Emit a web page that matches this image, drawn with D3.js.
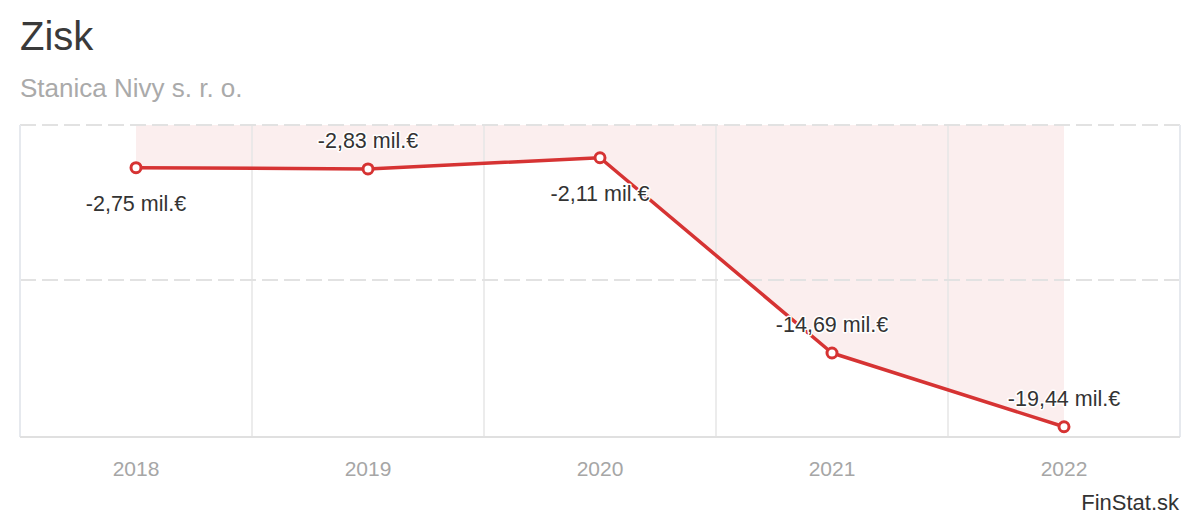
<!DOCTYPE html>
<html>
<head>
  <meta charset="utf-8">
  <script src="https://cdnjs.cloudflare.com/ajax/libs/d3/7.8.5/d3.min.js"></script>
  <title>Zisk</title>
  <style>
    body { margin: 0; background: #fff; }
    text { font-family: "Liberation Sans", Arial, sans-serif; }
  </style>
</head>
<body>
<script>
var roky = ["2018", "2019", "2020", "2021", "2022"];
var zisk = [-2.75, -2.83, -2.11, -14.69, -19.44];   // mil. €
var popisky = ["-2,75 mil.€", "-2,83 mil.€", "-2,11 mil.€", "-14,69 mil.€", "-19,44 mil.€"];
var yTicky = [0, -10, -20];

var W = 1200, H = 520;
var pLeft = 20, pRight = 1180, pTop = 125, pBottom = 437;

var svg = d3.select("body").append("svg")
  .attr("width", W).attr("height", H);

var x = d3.scaleBand().domain(roky).range([pLeft, pRight]).padding(0);
var y = d3.scaleLinear().domain([-20.1, 0]).range([pBottom, pTop]);
var cx = function(d, i) { return x(roky[i]) + x.bandwidth() / 2; };

// title
svg.append("text").attr("x", 20).attr("y", 50)
  .attr("font-size", 40).attr("fill", "#3a3a3a").text("Zisk");
svg.append("text").attr("x", 20).attr("y", 97)
  .attr("font-size", 26).attr("fill", "#aaa").text("Stanica Nivy s. r. o.");

// area between zero and the line
var plocha = d3.area()
  .x(cx)
  .y0(y(0))
  .y1(function(d) { return y(d); });
svg.append("path").datum(zisk)
  .attr("d", plocha)
  .attr("fill", "#fbeeee");

// vertical grid (band edges)
var hrany = roky.map(function(r) { return x(r); }).slice(1);
svg.selectAll(".vgrid").data(hrany).enter().append("line")
  .attr("x1", function(d) { return d; }).attr("x2", function(d) { return d; })
  .attr("y1", pTop).attr("y2", pBottom)
  .attr("stroke", "#e6e6e6").attr("stroke-width", 1.5);

// horizontal dashed grid
svg.selectAll(".hgrid").data(yTicky.filter(function(t) { return t > -20; })).enter().append("line")
  .attr("x1", pLeft).attr("x2", pRight)
  .attr("y1", function(d) { return Math.round(y(d)); })
  .attr("y2", function(d) { return Math.round(y(d)); })
  .attr("stroke", "#e2e2e2").attr("stroke-width", 2)
  .attr("stroke-dasharray", "16,6");

// frame: left/right, bottom axis
[pLeft, pRight].forEach(function(xx) {
  svg.append("line").attr("x1", xx).attr("x2", xx)
    .attr("y1", pTop).attr("y2", pBottom)
    .attr("stroke", "#e6e9ee").attr("stroke-width", 2);
});
svg.append("line").attr("x1", pLeft).attr("x2", pRight)
  .attr("y1", pBottom).attr("y2", pBottom)
  .attr("stroke", "#e0e0e0").attr("stroke-width", 2);

// x axis labels
var osX = svg.append("g").attr("transform", "translate(0," + pBottom + ")")
  .call(d3.axisBottom(x).tickSize(0).tickPadding(24));
osX.select(".domain").remove();
osX.attr("font-size", null).attr("font-family", null);
osX.selectAll("text")
  .attr("font-size", 21).attr("fill", "#a6a6a6");

// line
var ciara = d3.line().x(cx).y(function(d) { return y(d); });
svg.append("path").datum(zisk)
  .attr("d", ciara)
  .attr("fill", "none")
  .attr("stroke", "#d63333")
  .attr("stroke-width", 3.5)
  .attr("stroke-linejoin", "round");

// labels: below the point when it is a local peak, otherwise above
function pod(i) {
  var sus = [];
  if (i > 0) sus.push(zisk[i - 1]);
  if (i < zisk.length - 1) sus.push(zisk[i + 1]);
  return zisk[i] >= d3.mean(sus);
}
svg.selectAll(".lbl").data(zisk).enter().append("text")
  .attr("x", cx)
  .attr("y", function(d, i) { return pod(i) ? y(d) + 43 : y(d) - 21; })
  .attr("text-anchor", "middle")
  .attr("font-size", 21.5)
  .attr("fill", "#333")
  .attr("stroke", "#fff").attr("stroke-width", 3)
  .attr("stroke-linejoin", "round")
  .attr("paint-order", "stroke")
  .text(function(d, i) { return popisky[i]; });

// markers
svg.selectAll(".bod").data(zisk).enter().append("circle")
  .attr("cx", cx)
  .attr("cy", function(d) { return y(d); })
  .attr("r", 5)
  .attr("fill", "#fff")
  .attr("stroke", "#d63333")
  .attr("stroke-width", 3);

// credit
svg.append("text").attr("x", 1179).attr("y", 510)
  .attr("text-anchor", "end")
  .attr("font-size", 22).attr("fill", "#333")
  .text("FinStat.sk");
</script>
</body>
</html>
